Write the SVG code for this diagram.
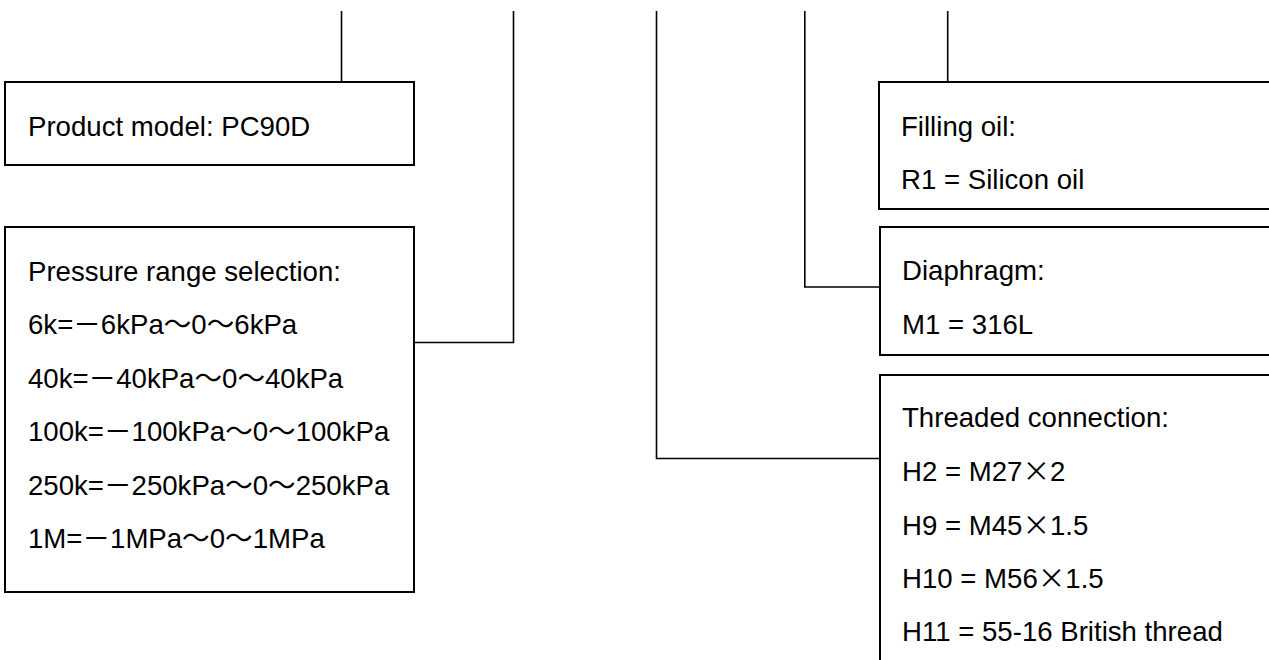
<svg xmlns="http://www.w3.org/2000/svg" width="1269" height="660" viewBox="0 0 1269 660">
<style>
.box{fill:#fff;stroke:#000;stroke-width:2}
.ln{fill:none;stroke:#000;stroke-width:1.6}
text{font-family:"Liberation Sans",Arial,"Noto Sans CJK SC",sans-serif;font-size:27.6px;fill:#000}
.cjk{font-family:"Noto Sans CJK JP","Noto Sans CJK SC",sans-serif}
</style>
<rect width="1269" height="660" fill="#fff"/>
<g id="connectors">
<path class="ln" d="M341.5,11V82"/>
<path class="ln" d="M513.5,11V342.5H414"/>
<path class="ln" d="M656.5,11V458.5H880"/>
<path class="ln" d="M804.8,11V287H880"/>
<path class="ln" d="M947.7,11V82"/>
</g>
<g id="product">
<rect class="box" x="5" y="82" width="409" height="83"/>
<text x="28" y="136">Product model: PC90D</text>
</g>
<g id="pressure">
<rect class="box" x="5" y="227" width="409" height="365"/>
<text x="28" y="281">Pressure range selection:</text>
<text x="28" y="334">6k=－6kPa～0～6kPa</text>
<text x="28" y="388">40k=－40kPa～0～40kPa</text>
<text x="28" y="441">100k=－100kPa～0～100kPa</text>
<text x="28" y="495">250k=－250kPa～0～250kPa</text>
<text x="28" y="548">1M=－1MPa～0～1MPa</text>
</g>
<g id="filling">
<rect class="box" x="879" y="82" width="400" height="127"/>
<text x="901" y="136">Filling oil:</text>
<text x="901" y="189">R1 = Silicon oil</text>
</g>
<g id="diaphragm">
<rect class="box" x="880" y="227" width="400" height="128"/>
<text x="902" y="280">Diaphragm:</text>
<text x="902" y="334">M1 = 316L</text>
</g>
<g id="threaded">
<rect class="box" x="880" y="375" width="400" height="300"/>
<text x="902" y="427">Threaded connection:</text>
<text x="902" y="481">H2 = M27<tspan class="cjk">×</tspan>2</text>
<text x="902" y="535">H9 = M45<tspan class="cjk">×</tspan>1.5</text>
<text x="902" y="588">H10 = M56<tspan class="cjk">×</tspan>1.5</text>
<text x="902" y="641">H11 = 55-16 British thread</text>
</g>
</svg>
